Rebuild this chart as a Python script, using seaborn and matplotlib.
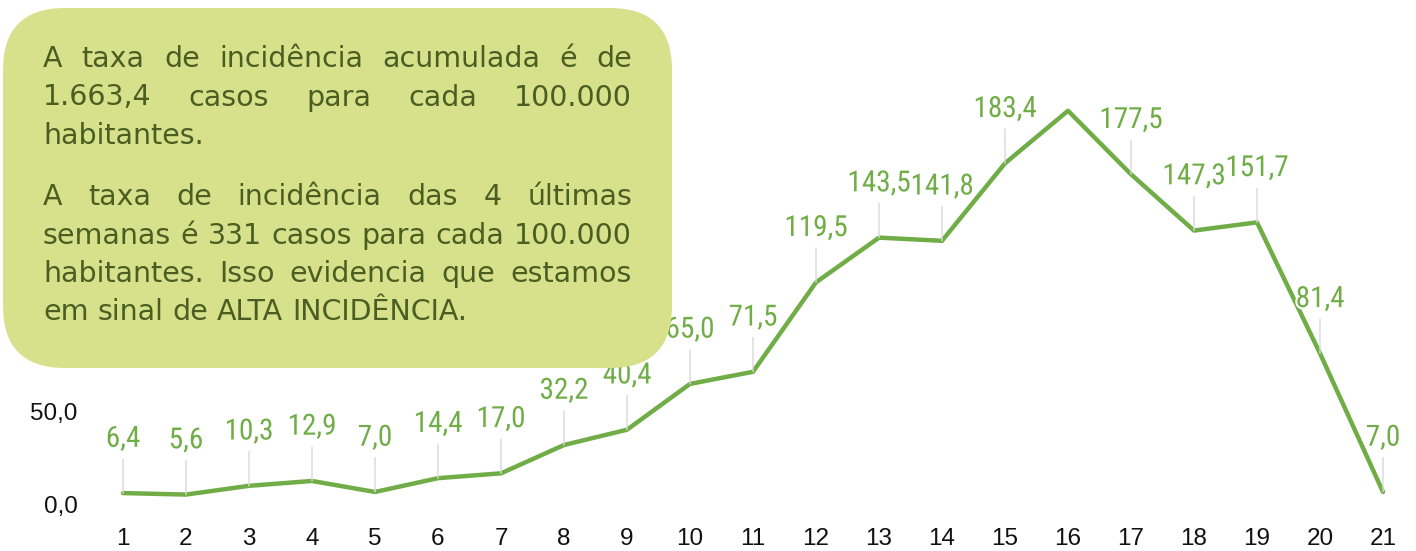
import numpy as np
import pandas as pd
import matplotlib
matplotlib.use("Agg")
import matplotlib.pyplot as plt
import matplotlib.patheffects as pe
from matplotlib import font_manager
from matplotlib.patches import FancyBboxPatch
import seaborn as sns

# ----------------------------
# data
# ----------------------------
semanas = list(range(1, 22))
taxa = [6.4, 5.6, 10.3, 12.9, 7.0, 14.4, 17.0, 32.2, 40.4, 65.0, 71.5,
        119.5, 143.5, 141.8, 183.4, 211.6, 177.5, 147.3, 151.7, 81.4, 7.0]
# week 16 has no visible label in the original
rotulos = ["6,4", "5,6", "10,3", "12,9", "7,0", "14,4", "17,0", "32,2", "40,4",
           "65,0", "71,5", "119,5", "143,5", "141,8", "183,4", "", "177,5",
           "147,3", "151,7", "81,4", "7,0"]
# higher y labels sit behind the text box in the original
y_ticks = [0, 50]
y_ticklabels = ["0,0", "50,0"]

paragrafo1 = ["A taxa de incidência acumulada é de",
              "1.663,4 casos para cada 100.000",
              "habitantes."]
paragrafo2 = ["A taxa de incidência das 4 últimas",
              "semanas é 331 casos para cada 100.000",
              "habitantes. Isso evidencia que estamos",
              "em sinal de ALTA INCIDÊNCIA."]

VERDE = "#70AD47"
TEXTO_BOX = "#4A5E22"
FUNDO_BOX = "#D7E08A"

sns.set_style("white")


def pick_font(cands):
    for c in cands:
        try:
            font_manager.findfont(c, fallback_to_default=False)
            return c
        except Exception:
            pass
    return "DejaVu Sans"


fonte_rotulo = pick_font(["Liberation Sans Narrow", "Roboto Condensed", "Roboto"])
fonte_eixo = pick_font(["Liberation Sans", "Roboto"])
fonte_box = pick_font(["DejaVu Sans"])

W, H = 1416, 551
fig = plt.figure(figsize=(W / 100, H / 100), dpi=100)

# main axes: week 1 at x=123px, week 21 at x=1383px ; y=0 at 505px
px_per_week = (1383 - 123) / 20
x_left = 123 - 0.5 * px_per_week
x_right = 1383 + 0.5 * px_per_week
y0 = H - 505
px_per_unit = (505 - 163.3) / 183.4
ymax = 250
ax = fig.add_axes([x_left / W, y0 / H, (x_right - x_left) / W,
                   ymax * px_per_unit / H])

df = pd.DataFrame({"semana": semanas, "taxa": taxa})
sns.lineplot(data=df, x="semana", y="taxa", color=VERDE, linewidth=3.2,
             ax=ax, zorder=3)

ax.set_xlim(0.5, 21.5)
ax.set_ylim(0, ymax)
ax.set_xticks(semanas)
ax.set_xticklabels([str(s) for s in semanas], fontsize=17.5,
                   family=fonte_eixo, color="#111111")
ax.set_yticks(y_ticks)
ax.set_yticklabels(y_ticklabels, fontsize=17.5, family=fonte_eixo,
                   color="#111111")
ax.tick_params(axis="x", length=0, pad=16.5)
ax.tick_params(axis="y", length=0, pad=10)
ax.set_xlabel("")
ax.set_ylabel("")
for sp in ax.spines.values():
    sp.set_visible(False)
ax.grid(False)

# data labels with leader lines
for s, v, r in zip(semanas, taxa, rotulos):
    if not r:
        continue
    ax.annotate(r, xy=(s, v), xytext=(0, 29), textcoords="offset points",
                ha="center", va="bottom", fontsize=21, family=fonte_rotulo,
                color=VERDE, zorder=4,
                path_effects=[pe.withStroke(linewidth=3, foreground="white")],
                arrowprops=dict(arrowstyle="-", color="#D9D9D9", lw=1.0,
                                shrinkA=2, shrinkB=0))

# ----------------------------
# overlay box with the text (pixel coordinates)
# ----------------------------
ov = fig.add_axes([0, 0, 1, 1])
ov.set_xlim(0, W)
ov.set_ylim(H, 0)
ov.axis("off")

caixa = FancyBboxPatch((3, 8), 669, 360,
                       boxstyle="round,pad=0,rounding_size=62",
                       facecolor=FUNDO_BOX, edgecolor="none", zorder=1)
ov.add_patch(caixa)

fig.canvas.draw()
renderer = fig.canvas.get_renderer()
x0_txt, x1_txt = 43, 632
FS_BOX = 17.5


def largura(txt, fs):
    t = ov.text(0, 0, txt, fontsize=fs, family=fonte_box)
    bb = t.get_window_extent(renderer)
    t.remove()
    return bb.width


# the longest line fills the whole width in the original
FS_BOX = min(20.5, FS_BOX * (x1_txt - x0_txt) / largura(paragrafo2[1], FS_BOX))


def escreve_linha(linha, y, justificar):
    palavras = linha.split(" ")
    ws = [largura(p, FS_BOX) for p in palavras]
    if justificar and len(palavras) > 1:
        gap = (x1_txt - x0_txt - sum(ws)) / (len(palavras) - 1)
    else:
        gap = largura("a a", FS_BOX) - largura("aa", FS_BOX)
    x = x0_txt
    for p, w in zip(palavras, ws):
        ov.text(x, y, p, fontsize=FS_BOX, family=fonte_box, color=TEXTO_BOX,
                ha="left", va="baseline", zorder=2)
        x += w + gap


bases1 = [67, 105.5, 144]
bases2 = [205, 243.5, 282, 320]
for i, (linha, yb) in enumerate(zip(paragrafo1, bases1)):
    escreve_linha(linha, yb, i < len(paragrafo1) - 1)
for i, (linha, yb) in enumerate(zip(paragrafo2, bases2)):
    escreve_linha(linha, yb, i < len(paragrafo2) - 1)

fig.savefig("out.png", dpi=100)
